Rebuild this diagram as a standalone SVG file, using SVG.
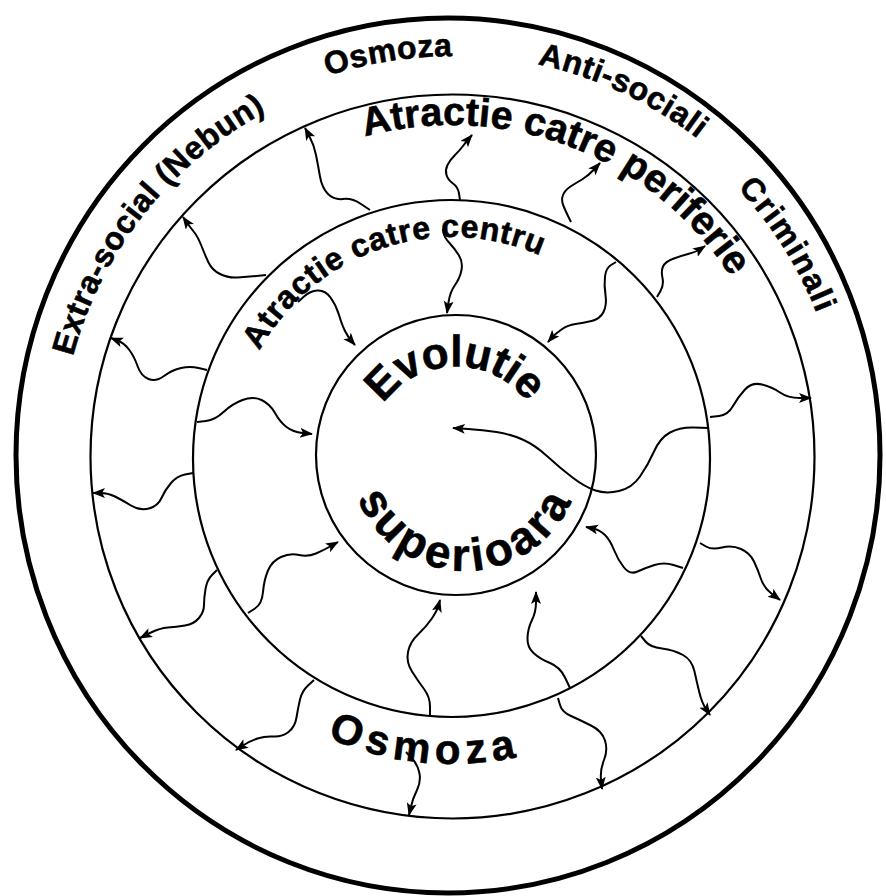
<svg xmlns="http://www.w3.org/2000/svg" width="886" height="896" viewBox="0 0 886 896">
<style>
.ring{fill:none;stroke:#000;stroke-width:2.2}
.outer{fill:none;stroke:#000;stroke-width:5}
.arr{fill:none;stroke:#000;stroke-width:2;marker-end:url(#ah)}
text{font-family:"Liberation Sans",Arial,sans-serif;font-weight:bold;fill:#000;stroke:#000;stroke-width:0.6px}
.lab{font-size:32px;letter-spacing:0.5px}
</style>
<defs>
<marker id="ah" markerUnits="userSpaceOnUse" markerWidth="14" markerHeight="12" refX="12" refY="5" orient="auto">
<path d="M0,0 L13,5 L0,10 L3,5 Z" fill="#000"/>
</marker>
<path id="p-osm1" d="M54.95,519.88 A402,402 0 0 1 849.05,394.12"/>
<path id="p-anti" d="M87.66,287.11 A402,402 0 0 1 816.34,626.89"/>
<path id="p-crim" d="M241.47,123.97 A394,394 0 0 1 662.53,790.03"/>
<path id="p-extra" d="M207.85,766.23 A394,394 0 0 1 696.15,147.77"/>
<path id="p-peri" d="M142.05,338.02 A332,332 0 0 1 761.95,575.98"/>
<path id="p-centru" d="M243.55,527.35 A220,220 0 0 1 660.45,386.65"/>
<path id="p-evo" d="M367.01,456.24 A89,89 0 0 1 544.99,453.76"/>
<path id="p-sup" d="M349,455.4 A116,116 0 0 0 581,454.6"/>
<path id="p-osm2" d="M146.36,428.11 A307,307 0 0 0 757.64,485.89"/>
</defs>
<rect width="886" height="896" fill="#fff"/>
<g id="ring-outer">
<ellipse class="outer" cx="448" cy="455.5" rx="432" ry="437.5"/>
<text class="lab"><textPath href="#p-osm1" startOffset="50%" text-anchor="middle">Osmoza</textPath></text>
<text class="lab"><textPath href="#p-anti" startOffset="50%" text-anchor="middle">Anti-sociali</textPath></text>
<text class="lab" style="letter-spacing:1.5px"><textPath href="#p-crim" startOffset="50%" text-anchor="middle">Criminali</textPath></text>
<text class="lab"><textPath href="#p-extra" startOffset="50%" text-anchor="middle">Extra-social (Nebun)</textPath></text>
</g>
<g id="ring-periferie">
<circle class="ring" cx="452.5" cy="456.5" r="362"/>
<text style="font-size:39.5px"><textPath href="#p-peri" startOffset="50%" text-anchor="middle">Atractie catre periferie</textPath></text>
<text style="font-size:42px;letter-spacing:6px"><textPath href="#p-osm2" startOffset="50%" text-anchor="middle">Osmoza</textPath></text>
</g>
<g id="ring-centru">
<circle class="ring" cx="451.5" cy="458.5" r="258.5"/>
<text style="font-size:32px;letter-spacing:0.7px"><textPath href="#p-centru" startOffset="50%" text-anchor="middle">Atractie catre centru</textPath></text>
</g>
<g id="ring-core">
<circle class="ring" cx="456" cy="455" r="140"/>
<text style="font-size:44px;letter-spacing:-0.5px"><textPath href="#p-evo" startOffset="50%" text-anchor="middle">Evolutie</textPath></text>
<text style="font-size:46px;letter-spacing:4px"><textPath href="#p-sup" startOffset="50%" text-anchor="middle">superioara</textPath></text>
</g>
<g id="connectors">
<path class="arr" d="M370,210 L361,204 Q352,198 343,199 Q334,200 328,194 Q322,188 320,176.5 Q318,165 316,155 Q314,145 309.5,136.5 L305,128"/>
<path class="arr" d="M266,275 L256.5,276 Q247,277 237.5,277.5 Q228,278 220,274 Q212,270 208.5,262.5 Q205,255 201.5,246 Q198,237 194,232 Q190,227 186.5,222 L183,217"/>
<path class="arr" d="M460,200 L459,193.5 Q458,187 453,183.5 Q448,180 446.5,175 Q445,170 447.5,165 Q450,160 455,155 Q460,150 463,146 Q466,142 469,138.5 L472,135"/>
<path class="arr" d="M571,222 L568.5,217 Q566,212 563.5,206 Q561,200 563,195 Q565,190 570.5,186.5 Q576,183 582,179.5 Q588,176 594,169.5 L600,163"/>
<path class="arr" d="M657,297 L660.5,291 Q664,285 662.5,278 Q661,271 663,266.5 Q665,262 672.5,259 Q680,256 688,254 Q696,252 700.5,249 L705,246"/>
<path class="arr" d="M616,262 L611,265 Q606,268 605,276.5 Q604,285 605.5,295 Q607,305 603.5,312 Q600,319 591.5,321 Q583,323 575.5,324 Q568,325 561.5,329.5 Q555,334 551.5,338 L548,342"/>
<path class="arr" d="M298,302 L304,296.5 Q310,291 317.5,290.5 Q325,290 330.5,297.5 Q336,305 339,315 Q342,325 345,331 Q348,337 351.5,341 L355,345"/>
<path class="arr" d="M207,370 L198.5,368 Q190,366 181,368 Q172,370 164,376 Q156,382 148.5,379 Q141,376 137.5,366 Q134,356 129,349.5 Q124,343 117.5,340.5 L111,338"/>
<path class="arr" d="M197,422 L206,421 Q215,420 223.5,412 Q232,404 242.5,400 Q253,396 261.5,400 Q270,404 275,413 Q280,422 286.5,427 Q293,432 302.5,433 L312,434"/>
<path class="arr" d="M193,473 L185,474.5 Q177,476 171,483 Q165,490 161.5,498 Q158,506 149,508.5 Q140,511 131,505.5 Q122,500 115,496.5 Q108,493 100.5,493 L93,493"/>
<path class="arr" d="M217,570 L212,575 Q207,580 205.5,589 Q204,598 204,605 Q204,612 199,618 Q194,624 185,625.5 Q176,627 168,627.5 Q160,628 150,633 L140,638"/>
<path class="arr" d="M248,613 L255,608.5 Q262,604 263,592 Q264,580 268,570.5 Q272,561 281,557 Q290,553 299,555 Q308,557 316,553.5 Q324,550 331,546 L338,542"/>
<path class="arr" d="M708,428 L694,427.5 Q680,427 670,432.5 Q660,438 654,451.5 Q648,465 640,476.5 Q632,488 619,491 Q606,494 595.5,490.5 Q585,487 572.5,477.5 Q560,468 547.5,456.5 Q535,445 522.5,439.5 Q510,434 496.5,432 Q483,430 468,429 L453,428"/>
<path class="arr" d="M710,417 L719,416 Q728,415 733,406 Q738,397 745,389.5 Q752,382 762,384.5 Q772,387 780,392.5 Q788,398 799.5,398 L811,398"/>
<path class="arr" d="M683,568 L673.5,565 Q664,562 654.5,565 Q645,568 637.5,571.5 Q630,575 624,567.5 Q618,560 614,550 Q610,540 605,535 Q600,530 593,528.5 L586,527"/>
<path class="arr" d="M700,543 L706,546.5 Q712,550 722,547.5 Q732,545 741,549 Q750,553 754,561.5 Q758,570 761,579 Q764,588 772,594 L780,600"/>
<path class="arr" d="M570,688 L565,677.5 Q560,667 550,663 Q540,659 533.5,653 Q527,647 527.5,637.5 Q528,628 532,620 Q536,612 536,602 L536,592"/>
<path class="arr" d="M430,716 L430,706.5 Q430,697 424,689 Q418,681 412,671.5 Q406,662 408,652 Q410,642 418,634.5 Q426,627 431.5,619 Q437,611 438.5,605.5 L440,600"/>
<path class="arr" d="M314,680 L308,685.5 Q302,691 300,699.5 Q298,708 296.5,717.5 Q295,727 288.5,732 Q282,737 273.5,736.5 Q265,736 257.5,738.5 Q250,741 243,745.5 L236,750"/>
<path class="arr" d="M406,752 L412,758.5 Q418,765 419.5,773.5 Q421,782 417,790 Q413,798 411,806.5 L409,815"/>
<path class="arr" d="M558,698 L560,705 Q562,712 571,716 Q580,720 591,725.5 Q602,731 605,740.5 Q608,750 604,760 Q600,770 601,779.5 L602,789"/>
<path class="arr" d="M641,636 L645.5,641.5 Q650,647 662,648.5 Q674,650 683,655 Q692,660 694.5,671.5 Q697,683 699.5,693 Q702,703 706,709 L710,715"/>
<path class="arr" d="M443,229 L443.5,233 Q444,237 449.5,243 Q455,249 459,255.5 Q463,262 461.5,270 Q460,278 455,285 Q450,292 448.5,302.5 L447,313"/>
</g>
</svg>
